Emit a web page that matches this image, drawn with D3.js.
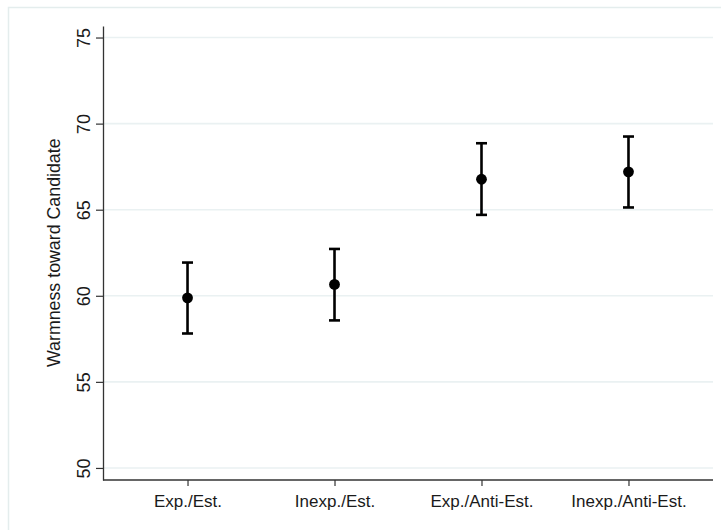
<!DOCTYPE html>
<html>
<head>
<meta charset="utf-8">
<script src="https://cdn.jsdelivr.net/npm/d3@7"></script>
<style>
body { margin: 0; background: #fff; }
text { font-family: "Liberation Sans", Arial, sans-serif; fill: #1a1a1a; }
</style>
</head>
<body>
<div id="chart-area"></div>
<script>
// groups and estimates with 95% CI
var categories = ["Exp./Est.", "Inexp./Est.", "Exp./Anti-Est.", "Inexp./Anti-Est."];
var means = [59.88, 60.66, 66.77, 67.20];
var lower = [57.81, 58.57, 64.70, 65.13];
var upper = [61.93, 62.72, 68.86, 69.25];
var yTicks = [50, 55, 60, 65, 70, 75];

var data = categories.map((c, i) => ({cat: c, mean: means[i], lo: lower[i], hi: upper[i]}));

var svg = d3.select("#chart-area").append("svg")
	.attr("width", 721)
	.attr("height", 530);

// outer frame of the graph region
svg.append("rect")
	.attr("x", 8.5).attr("y", 7.5)
	.attr("width", 760).attr("height", 560)
	.attr("fill", "none")
	.attr("stroke", "#e4eded")
	.attr("stroke-width", 1.5);

var x = d3.scalePoint()
	.domain(categories)
	.range([103, 713])
	.padding(0.575);

var y = d3.scaleLinear()
	.domain([49.3, 75.67])
	.range([480, 26]);

// gridlines
svg.append("g").selectAll("line").data(yTicks).enter().append("line")
	.attr("x1", 103).attr("x2", 713)
	.attr("y1", d => y(d)).attr("y2", d => y(d))
	.attr("stroke", "#eaf1f2")
	.attr("stroke-width", 1.6);

var leftAxis = d3.axisLeft(y).tickValues(yTicks).tickSize(7).tickSizeOuter(0).tickPadding(14);
var gy = svg.append("g")
	.attr("transform", "translate(103,0)")
	.call(leftAxis);
gy.select(".domain").attr("stroke", "#333").attr("stroke-width", 1.3);
gy.selectAll(".tick line").attr("stroke", "#333").attr("stroke-width", 1.2);
gy.selectAll(".tick text")
	.attr("font-size", "18px")
	.attr("fill", "#1a1a1a")
	.attr("x", null).attr("dy", null)
	.attr("text-anchor", "middle")
	.attr("transform", "translate(-13.5,0) rotate(-90)");

var bottomAxis = d3.axisBottom(x).tickSize(6).tickSizeOuter(0).tickPadding(9);
var gx = svg.append("g")
	.attr("transform", "translate(0,480)")
	.call(bottomAxis);
gx.select(".domain").attr("stroke", "#333").attr("stroke-width", 1.3)
	.attr("d", "M103,0H713");
gx.selectAll(".tick line").attr("stroke", "#333").attr("stroke-width", 1.2);
gx.selectAll(".tick text")
	.attr("font-size", "17px")
	.attr("fill", "#1a1a1a");

svg.append("text")
	.attr("x", -(y(62.5)))
	.attr("y", 60)
	.attr("transform", "rotate(-90)")
	.attr("text-anchor", "middle")
	.attr("font-size", "17.8px")
	.text("Warmness toward Candidate");

// error bars
var bars = svg.append("g").selectAll("g").data(data).enter().append("g");
bars.append("line")
	.attr("x1", d => x(d.cat)).attr("x2", d => x(d.cat))
	.attr("y1", d => y(d.lo)).attr("y2", d => y(d.hi))
	.attr("stroke", "#000").attr("stroke-width", 2.6);
bars.append("line")
	.attr("x1", d => x(d.cat) - 5.5).attr("x2", d => x(d.cat) + 5.5)
	.attr("y1", d => y(d.hi)).attr("y2", d => y(d.hi))
	.attr("stroke", "#000").attr("stroke-width", 2.6);
bars.append("line")
	.attr("x1", d => x(d.cat) - 5.5).attr("x2", d => x(d.cat) + 5.5)
	.attr("y1", d => y(d.lo)).attr("y2", d => y(d.lo))
	.attr("stroke", "#000").attr("stroke-width", 2.6);
bars.append("circle")
	.attr("cx", d => x(d.cat))
	.attr("cy", d => y(d.mean))
	.attr("r", 5.4)
	.attr("fill", "#000");
</script>
</body>
</html>
